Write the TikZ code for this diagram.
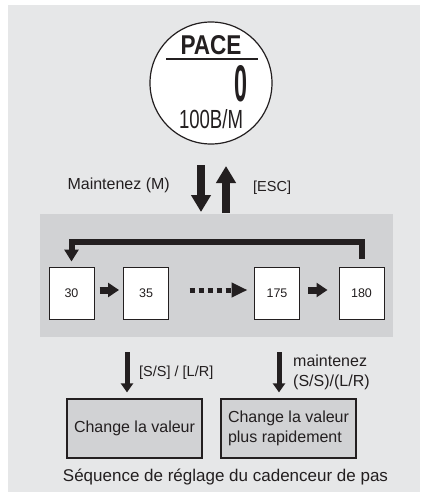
\documentclass[tikz,border=0pt]{standalone}
\usepackage{fontspec}
\usepackage{graphicx}
\setmainfont{Liberation Sans}
\usetikzlibrary{arrows.meta,calc}
\definecolor{bgouter}{HTML}{E6E7E8}
\definecolor{bginner}{HTML}{D1D2D4}
\definecolor{ink}{HTML}{231F20}
\tikzset{
  numbox/.style={draw=ink, line width=1pt, fill=white, minimum width=45pt, minimum height=52pt, inner sep=0pt, font=\fontsize{12.5}{15}\selectfont, text=ink},
  valbox/.style={draw=ink, line width=1.2pt, fill=bginner, minimum width=135pt, minimum height=59pt, inner sep=0pt, font=\fontsize{16}{20}\selectfont, text=ink},
  bigarrow/.style={draw=ink, line width=8pt, -{Triangle[length=17pt,width=19pt]}},
  smallarrow/.style={draw=ink, line width=7pt, -{Triangle[length=11pt,width=14pt]}},
  dotarrow/.style={draw=ink, line width=5pt, dash pattern=on 5pt off 4pt, -{Triangle[length=16pt,width=14pt]}},
  looparrow/.style={draw=ink, line width=6pt, line join=miter, -{Triangle[length=12pt,width=14pt]}},
  thinarrow/.style={draw=ink, line width=5pt, -{Triangle[length=9pt,width=12pt]}},
  lbl/.style={text=ink, inner sep=0pt, font=\fontsize{16}{20}\selectfont},
  slbl/.style={text=ink, inner sep=0pt, font=\fontsize{14.5}{18}\selectfont},
}
\begin{document}
\begin{tikzpicture}[x=1pt,y=-1pt]
\useasboundingbox (0,0) rectangle (420,492);
\fill[bgouter] (8,5) rectangle (420,492);

% display
\node[circle, draw=ink, line width=1.2pt, fill=white, minimum size=122pt, inner sep=0pt] (disp) at (211,83) {};
\node[inner sep=0pt, text=ink] (pace) at (211,45.5) {\resizebox{61pt}{19pt}{\bfseries PACE}};
\coordinate (ulL) at (166,59.5);
\coordinate (ulR) at (258,59.5);
\draw[ink, line width=2pt] (ulL) -- (ulR);
\node[inner sep=0pt, text=ink] (zero) at (241,84) {\resizebox{13pt}{36pt}{\bfseries 0}};
\node[inner sep=0pt, text=ink] (rate) at (211,119.5) {\resizebox{64pt}{19pt}{100B/M}};

% mode arrows
\coordinate (dA) at (201,165);
\coordinate (dB) at (201,212);
\coordinate (uA) at (226,213);
\coordinate (uB) at (226,166);
\draw[bigarrow] (dA) -- (dB);
\draw[bigarrow] (uA) -- (uB);
\node[lbl, anchor=east] (maint) at (170,185) {Maintenez (M)};
\node[slbl, anchor=west] (esc) at (253,188) {[ESC]};

% inner panel
\fill[bginner] (40,214) rectangle (393,337);

\node[numbox] (n30) at (71.5,293) {30};
\node[numbox] (n35) at (146,293) {35};
\node[numbox] (n175) at (277,293) {175};
\node[numbox] (n180) at (361.5,293) {180};

\draw[smallarrow] ([xshift=5pt,yshift=3pt]n30.east) -- ([xshift=-4pt,yshift=3pt]n35.west);
\draw[dotarrow] ([xshift=20.5pt,yshift=3pt]n35.east) -- ([xshift=-6.5pt,yshift=3pt]n175.west);
\draw[smallarrow] ([xshift=8pt,yshift=3pt]n175.east) -- ([xshift=-11pt,yshift=3pt]n180.west);
\draw[looparrow] ([yshift=8pt]n180.north) -- ++(0,-17) -| ([yshift=5pt]n30.north);

% value boxes
\node[valbox] (b1) at (134.5,428.5) {Change la valeur};
\node[valbox] (b2) at (288.5,428.5) {\begin{tabular}{@{}l@{}}Change la valeur\\[-0.5pt]plus rapidement\end{tabular}};

\coordinate (a1s) at (127,352);
\coordinate (a2s) at (279,352);
\draw[thinarrow] (a1s) -- ([yshift=6pt]a1s |- b1.north);
\draw[thinarrow] (a2s) -- ([yshift=6pt]a2s |- b2.north);
\node[slbl, anchor=west] (ss) at (139,373) {[S/S] / [L/R]};
\node[lbl, anchor=west, align=left] (hold) at (293,372) {maintenez\\(S/S)/(L/R)};

\node[lbl, font=\fontsize{17}{20}\selectfont] (cap) at (225.5,477) {Séquence de réglage du cadenceur de pas};
\end{tikzpicture}
\end{document}
